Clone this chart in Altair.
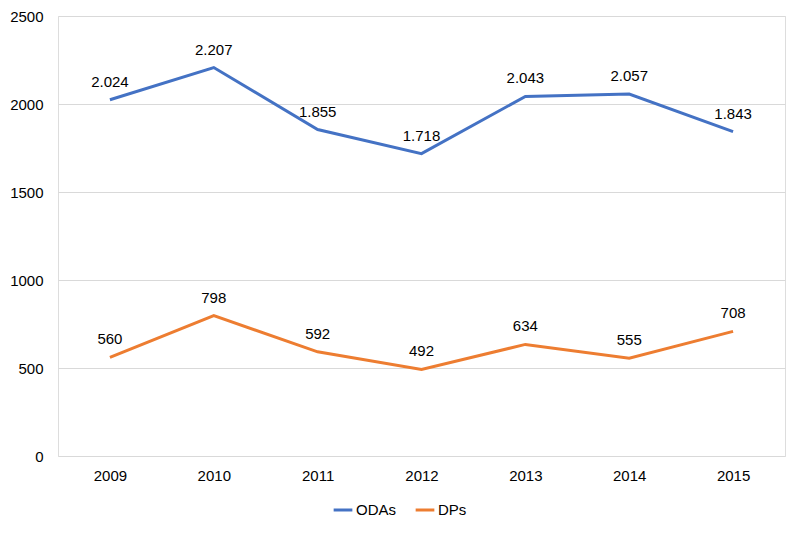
import altair as alt
import pandas as pd

years = ["2009", "2010", "2011", "2012", "2013", "2014", "2015"]
odas = [2024, 2207, 1855, 1718, 2043, 2057, 1843]
dps = [560, 798, 592, 492, 634, 555, 708]
series_names = ["ODAs", "DPs"]
colors = ["#4472C4", "#ED7D31"]

rows = []
for name, vals in zip(series_names, [odas, dps]):
    for y, v in zip(years, vals):
        rows.append({"year": y, "value": v, "series": name,
                     "label": f"{v:,}".replace(",", ".")})
df = pd.DataFrame(rows)

FONT = "Liberation Sans"

x = alt.X("year:N", title=None,
          scale=alt.Scale(paddingInner=1, paddingOuter=0.5),
          axis=alt.Axis(labelAngle=0, domain=False, ticks=False, labelPadding=12,
                        labelFontSize=15, labelColor="#000000", labelFont=FONT))
y = alt.Y("value:Q", title=None,
          scale=alt.Scale(domain=[0, 2500]),
          axis=alt.Axis(values=[0, 500, 1000, 1500, 2000, 2500], format="d",
                        domain=False, ticks=False,
                        labelPadding=15, labelFontSize=15, labelColor="#000000",
                        labelFont=FONT, gridColor="#d9d9d9", gridWidth=1))
color = alt.Color("series:N", scale=alt.Scale(domain=series_names, range=colors),
                  legend=alt.Legend(title=None, orient="none", direction="horizontal",
                                    legendX=274, legendY=483, symbolType="stroke",
                                    symbolStrokeWidth=3, symbolSize=350,
                                    labelFontSize=15, labelFont=FONT, labelColor="#000000",
                                    columnPadding=12, labelOffset=2))

base = alt.Chart(df)
lines = base.mark_line(strokeWidth=3).encode(x=x, y=y, color=color)
labels = base.mark_text(dy=-18, fontSize=15, font=FONT, color="#000000").encode(
    x=x, y=y, text="label:N")

chart = (lines + labels).properties(
    width=727, height=440,
    padding={"left": 50, "top": 8, "right": 7, "bottom": 70},
    autosize=alt.AutoSizeParams(type="none"),
).configure_view(stroke=None).configure(background="white")

chart.save("out.html", embed_options={"renderer": "svg", "actions": False})
